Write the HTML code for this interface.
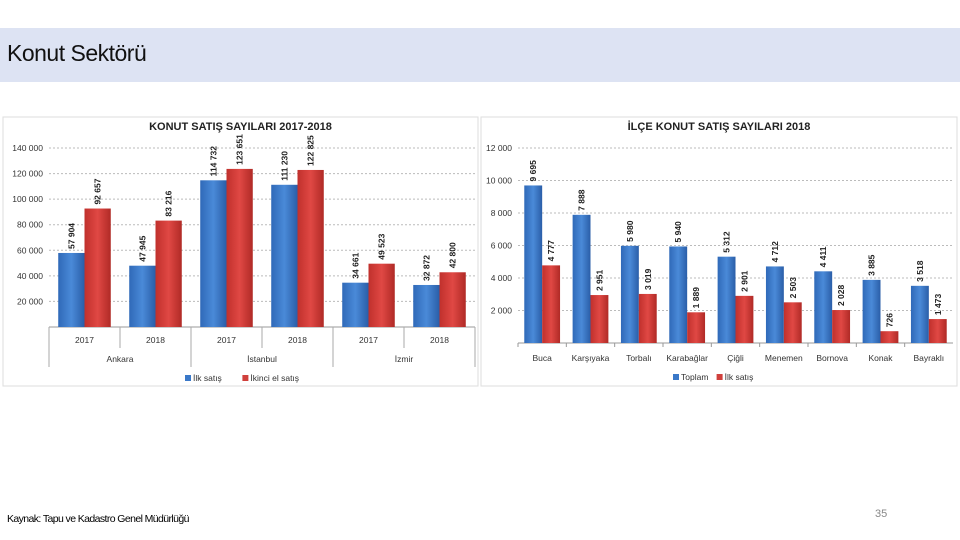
<!DOCTYPE html>
<html><head><meta charset="utf-8"><style>
html,body{margin:0;padding:0;background:#fff;width:960px;height:540px;overflow:hidden;font-family:"Liberation Sans",sans-serif}
#hdr{position:absolute;left:0;top:28px;width:960px;height:54px;background:#dde3f3}
#hdr span{position:absolute;left:7px;top:12px;font-size:23px;color:#111;letter-spacing:-0.5px}
#src{position:absolute;left:7px;top:513px;font-size:10.5px;color:#000;letter-spacing:-0.6px}
#pg{position:absolute;left:875px;top:508px;font-size:11px;color:#888}
svg{position:absolute;left:0;top:0}
</style></head><body>
<div id="hdr"><span>Konut Sektörü</span></div>
<div id="src">Kaynak: Tapu ve Kadastro Genel Müdürlüğü</div>
<div id="pg">35</div>
<svg id="sv" width="960" height="540">
<defs>
<linearGradient id="gb" x1="0" x2="1"><stop offset="0" stop-color="#2f69b8"/><stop offset=".5" stop-color="#4a8ad8"/><stop offset="1" stop-color="#2a5ea8"/></linearGradient>
<linearGradient id="gr" x1="0" x2="1"><stop offset="0" stop-color="#c0302c"/><stop offset=".5" stop-color="#e04844"/><stop offset="1" stop-color="#b02a26"/></linearGradient>
</defs>
</svg>
<script>
const cityCats=["Ankara","Ankara","İstanbul","İstanbul","İzmir","İzmir"];
const yearCats=["2017","2018","2017","2018","2017","2018"];
const ilkSatis=[57904,47945,114732,111230,34661,32872];
const ikinciEl=[92657,83216,123651,122825,49523,42800];
const leftTicks=[20000,40000,60000,80000,100000,120000,140000];
const districts=["Buca","Karşıyaka","Torbalı","Karabağlar","Çiğli","Menemen","Bornova","Konak","Bayraklı"];
const toplam=[9695,7888,5980,5940,5312,4712,4411,3885,3518];
const ilkIlce=[4777,2951,3019,1889,2901,2503,2028,726,1473];
const rightTicks=[2000,4000,6000,8000,10000,12000];

const NS="http://www.w3.org/2000/svg";const sv=document.getElementById('sv');
function el(t,a,txt){const e=document.createElementNS(NS,t);for(const k in a)e.setAttribute(k,a[k]);if(txt!==undefined)e.textContent=txt;sv.appendChild(e);return e;}
function fmt(v){return String(v).replace(/\B(?=(\d{3})+(?!\d))/g," ");}
function chart(o){
  const p=el('rect',{x:o.px,y:117,width:o.pw,height:269,fill:'#fff',stroke:'#ddd'});
  
  const t=el('text',{x:o.px+o.pw/2,y:130,'text-anchor':'middle','font-size':11,'font-weight':'bold',fill:'#222'},o.title);
  
  const y=v=>o.y0-(v/o.max)*(o.y0-o.ytop);
  o.ticks.forEach(v=>{
    const g=el('line',{x1:o.x0,x2:o.x1,y1:y(v),y2:y(v),stroke:'#bbb','stroke-dasharray':'2,2'});
    
    const l=el('text',{x:o.x0-6,y:y(v)+3,'text-anchor':'end','font-size':8.5,fill:'#333'},fmt(v));
    
  });
  el('line',{x1:o.x0,x2:o.x1,y1:o.y0,y2:o.y0,stroke:'#999'});
  const n=o.a.length,cw=(o.x1-o.x0)/n,bw=cw*o.bf;
  for(let i=0;i<n;i++){
    const cx=o.x0+cw*i+cw/2;
    [[o.a[i],'url(#gb)',cx-bw],[o.b[i],'url(#gr)',cx]].forEach(([v,f,bx],k)=>{
      const r=el('rect',{x:bx,y:y(v),width:bw,height:o.y0-y(v),fill:f});
      
      const tx=bx+bw/2+3,ty=y(v)-4;
      const lb=el('text',{x:tx,y:ty,transform:`rotate(-90 ${tx} ${ty})`,'font-size':8.5,'font-weight':'bold',fill:'#222'},fmt(v));
      
    });
    const cl=el('text',{x:cx,y:o.catY,'text-anchor':'middle','font-size':8.5,fill:'#333'},o.cats[i]);
    
    if(o.divs) el('line',{x1:o.x0+cw*i,x2:o.x0+cw*i,y1:o.y0,y2:(i%2==0?367:348),stroke:'#aaa'});
    else el('line',{x1:o.x0+cw*i,x2:o.x0+cw*i,y1:o.y0,y2:o.y0+4,stroke:'#999'});
  }
  if(o.divs){el('line',{x1:o.x1,x2:o.x1,y1:o.y0,y2:367,stroke:'#aaa'});
    for(let g=0;g<3;g++){const gl=el('text',{x:o.x0+cw*(2*g+1),y:362,'text-anchor':'middle','font-size':8.5,fill:'#333'},o.groups[g*2]);
      }}
  // legend
  let lx=o.legX;
  o.leg.forEach((s,k)=>{
    const sw=el('rect',{x:lx,y:o.legY-6,width:6,height:6,fill:k?'#d0403c':'#3a78c8'});
    
    const lt=el('text',{x:lx+8,y:o.legY,'font-size':8.5,fill:'#333'},s);
    
    lx+=8+s.length*4.6+8;
  });
}
chart({name:'left-chart',px:3,pw:475,title:'KONUT SATIŞ SAYILARI 2017-2018',x0:49,x1:475,y0:327,ytop:148,max:140000,ticks:leftTicks,a:ilkSatis,b:ikinciEl,cats:yearCats,groups:cityCats,bf:0.37,catY:343,divs:true,legX:185,legY:381,leg:['İlk satış','İkinci el satış']});
chart({name:'right-chart',px:481,pw:476,title:'İLÇE KONUT SATIŞ SAYILARI 2018',x0:518,x1:953,y0:343,ytop:148,max:12000,ticks:rightTicks,a:toplam,b:ilkIlce,cats:districts,bf:0.37,catY:361,divs:false,legX:673,legY:380,leg:['Toplam','İlk satış']});
</script>
</body></html>
